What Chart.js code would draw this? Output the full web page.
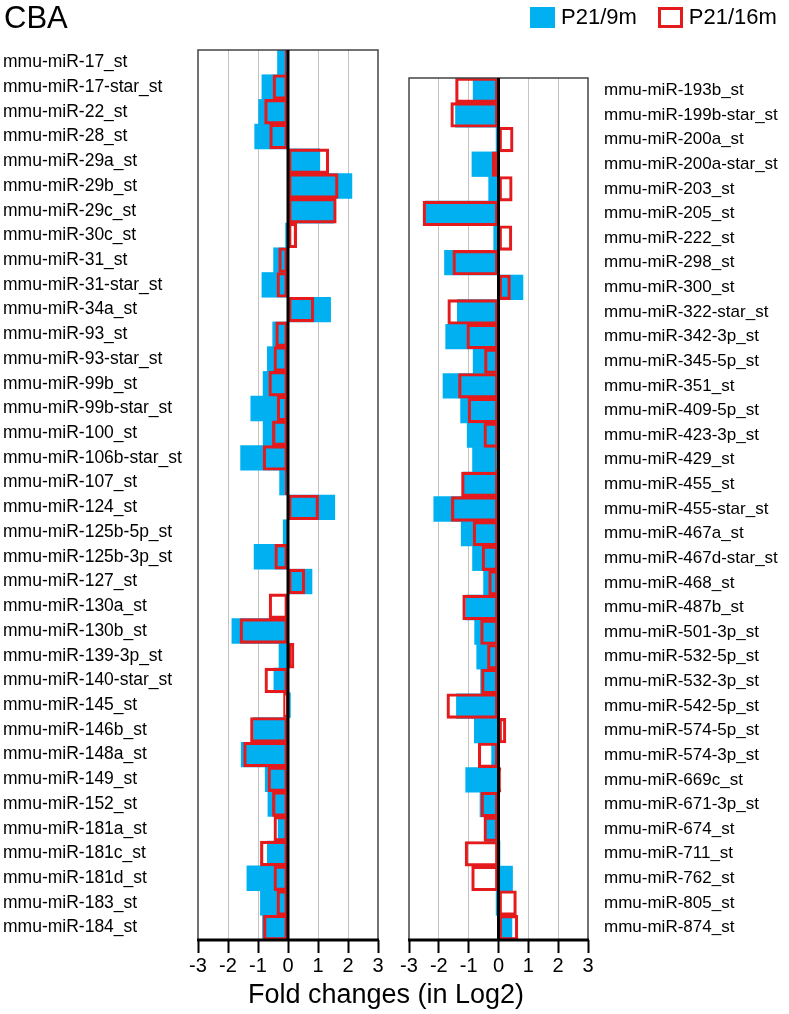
<!DOCTYPE html>
<html>
<head>
<meta charset="utf-8">
<title>CBA</title>
<script src="https://cdn.jsdelivr.net/npm/chart.js@4.4.1/dist/chart.umd.min.js"></script>
<style>
  body { margin: 0; background: #fff; font-family: "Liberation Sans", Arial, sans-serif; }
  #wrap { position: relative; width: 789px; height: 1014px; overflow: hidden; }
  canvas { position: absolute; top: 0; }
  #chart-left { left: 0; }
  #chart-right { left: 395px; }
  .txt { position: absolute; color: #000; white-space: nowrap; line-height: 1; }
  #panel-title { left: 4px; top: 2px; font-size: 31px; }
  #xtitle { left: 0; width: 772px; text-align: center; top: 981px; font-size: 27px; }
  #legend { left: 530px; top: 6px; font-size: 22px; display: flex; align-items: center; }
  #legend .sw { display: inline-block; width: 25px; height: 21px; box-sizing: border-box; margin-right: 6px; }
  #legend .item { display: flex; align-items: center; margin-right: 21px; }
</style>
</head>
<body>
<div id="wrap">
  <canvas id="chart-left" width="392" height="1014"></canvas>
  <canvas id="chart-right" width="394" height="1014"></canvas>
  <div class="txt" id="panel-title">CBA</div>
  <div class="txt" id="legend"></div>
  <div class="txt" id="xtitle">Fold changes (in Log2)</div>
</div>
<script>
// data (log2 fold changes)

const leftLabels = [
  "mmu-miR-17_st", "mmu-miR-17-star_st", "mmu-miR-22_st", "mmu-miR-28_st",
  "mmu-miR-29a_st", "mmu-miR-29b_st", "mmu-miR-29c_st", "mmu-miR-30c_st",
  "mmu-miR-31_st", "mmu-miR-31-star_st", "mmu-miR-34a_st", "mmu-miR-93_st",
  "mmu-miR-93-star_st", "mmu-miR-99b_st", "mmu-miR-99b-star_st", "mmu-miR-100_st",
  "mmu-miR-106b-star_st", "mmu-miR-107_st", "mmu-miR-124_st", "mmu-miR-125b-5p_st",
  "mmu-miR-125b-3p_st", "mmu-miR-127_st", "mmu-miR-130a_st", "mmu-miR-130b_st",
  "mmu-miR-139-3p_st", "mmu-miR-140-star_st", "mmu-miR-145_st", "mmu-miR-146b_st",
  "mmu-miR-148a_st", "mmu-miR-149_st", "mmu-miR-152_st", "mmu-miR-181a_st",
  "mmu-miR-181c_st", "mmu-miR-181d_st", "mmu-miR-183_st", "mmu-miR-184_st"
];
const left9m = [
  -0.35, -0.87, -0.98, -1.11, 1.06, 2.13, 1.53, -0.08, -0.48, -0.87,
  1.42, -0.51, -0.69, -0.83, -1.24, -0.83, -1.58, -0.28, 1.56, -0.16,
  -1.13, 0.8, 0, -1.87, -0.3, -0.47, 0.08, -1.15, -1.56, -0.76,
  -0.67, -0.33, -0.69, -1.37, -0.92, -0.85
];
const left16m = [
  -0.1, -0.5, -0.78, -0.61, 1.36, 1.67, 1.61, 0.29, -0.31, -0.37,
  0.86, -0.41, -0.47, -0.64, -0.36, -0.52, -0.83, -0.09, 1.02, -0.03,
  -0.44, 0.56, -0.63, -1.6, 0.2, -0.77, -0.15, -1.25, -1.48, -0.67,
  -0.52, -0.47, -0.92, -0.47, -0.37, -0.82
];

const rightLabels = [
  "mmu-miR-193b_st", "mmu-miR-199b-star_st", "mmu-miR-200a_st", "mmu-miR-200a-star_st",
  "mmu-miR-203_st", "mmu-miR-205_st", "mmu-miR-222_st", "mmu-miR-298_st",
  "mmu-miR-300_st", "mmu-miR-322-star_st", "mmu-miR-342-3p_st", "mmu-miR-345-5p_st",
  "mmu-miR-351_st", "mmu-miR-409-5p_st", "mmu-miR-423-3p_st", "mmu-miR-429_st",
  "mmu-miR-455_st", "mmu-miR-455-star_st", "mmu-miR-467a_st", "mmu-miR-467d-star_st",
  "mmu-miR-468_st", "mmu-miR-487b_st", "mmu-miR-501-3p_st", "mmu-miR-532-5p_st",
  "mmu-miR-532-3p_st", "mmu-miR-542-5p_st", "mmu-miR-574-5p_st", "mmu-miR-574-3p_st",
  "mmu-miR-669c_st", "mmu-miR-671-3p_st", "mmu-miR-674_st", "mmu-miR-711_st",
  "mmu-miR-762_st", "mmu-miR-805_st", "mmu-miR-874_st"
];
const right9m = [
  -0.85, -1.44, -0.08, -0.89, -0.33, -2.45, -0.16, -1.81, 0.82, -1.38,
  -1.77, -0.85, -1.86, -1.27, -1.05, -0.87, -1.19, -2.17, -1.25, -0.87,
  -0.5, -1.1, -0.8, -0.73, -0.6, -1.41, -0.81, -0.23, -1.1, -0.62,
  -0.45, 0.05, 0.47, -0.08, 0.45
];
const right16m = [
  -1.44, -1.6, 0.49, -0.21, 0.46, -2.53, 0.45, -1.53, 0.4, -1.7,
  -1.06, -0.47, -1.34, -1.02, -0.49, -0.1, -1.24, -1.58, -0.85, -0.55,
  -0.33, -1.2, -0.6, -0.37, -0.57, -1.73, 0.25, -0.68, 0.08, -0.59,
  -0.49, -1.12, -0.9, 0.6, 0.65
];

const xTicks = [-3, -2, -1, 0, 1, 2, 3];

const BLUE = "#00b0f0";
const RED = "#e41a1c";
const FONT = "'Liberation Sans', Arial, sans-serif";

// frame round the plot and the zero line on top of the bars
const framePlugin = {
  id: "frame",
  afterDatasetsDraw(chart) {
    const { ctx, chartArea: a, scales } = chart;
    ctx.save();
    ctx.strokeStyle = "#444";
    ctx.lineWidth = 1.5;
    ctx.strokeRect(a.left, a.top, a.right - a.left, a.bottom - a.top);
    const x0 = scales.x.getPixelForValue(0);
    ctx.strokeStyle = "#000";
    ctx.lineWidth = 3;
    ctx.beginPath();
    ctx.moveTo(x0, a.top);
    ctx.lineTo(x0, a.bottom);
    ctx.stroke();
    ctx.beginPath();
    ctx.moveTo(a.left - 1, a.bottom);
    ctx.lineTo(a.right + 1, a.bottom);
    ctx.stroke();
    ctx.restore();
  }
};

function makeChart(id, labels, v9m, v16m, side, padding, yWidth, labelSize, labelPad) {
  const canvas = document.getElementById(id);
  return new Chart(canvas, {
    type: "bar",
    data: {
      labels: labels,
      datasets: [
        {
          label: "P21/16m",
          data: v16m,
          backgroundColor: "rgba(0,0,0,0)",
          borderColor: RED,
          borderWidth: 2.5,
          borderSkipped: false
        },
        {
          label: "P21/9m",
          data: v9m,
          backgroundColor: BLUE,
          borderWidth: 0
        }
      ]
    },
    options: {
      indexAxis: "y",
      responsive: false,
      animation: false,
      grouped: false,
      barPercentage: 1,
      categoryPercentage: 1,
      layout: { padding: padding },
      plugins: {
        legend: { display: false },
        tooltip: { enabled: false }
      },
      scales: {
        x: {
          min: -3,
          max: 3,
          afterBuildTicks(scale) {
            scale.ticks = xTicks.map((v) => ({ value: v }));
          },
          afterFit(scale) {
            scale.height = 74;
          },
          ticks: {
            color: "#000",
            padding: 1,
            font: { family: FONT, size: 20 }
          },
          grid: {
            color: (c) => (c.tick && Math.abs(c.tick.value) < 3 && c.tick.value !== 0 ? "#c4c4c4" : "rgba(0,0,0,0)"),
            lineWidth: 1,
            tickColor: "#000",
            tickLength: 13,
            tickWidth: 2
          },
          border: { display: false }
        },
        y: {
          position: side,
          afterFit(scale) {
            scale.width = yWidth;
          },
          grid: { display: false },
          border: { display: false },
          ticks: {
            color: "#000",
            crossAlign: side === "left" ? "far" : "near",
            padding: labelPad,
            autoSkip: false,
            font: { family: FONT, size: labelSize }
          }
        }
      }
    },
    plugins: [framePlugin]
  });
}

window.addEventListener("DOMContentLoaded", () => {
  // left panel: plot from x 198 to 378, y 50 to 940
  makeChart("chart-left", leftLabels, left9m, left16m, "left",
    { left: 3, top: 50, right: 14, bottom: 0 }, 195, 17.5, 0);
  // right panel: plot from x 409 to 588, y 78 to 940
  makeChart("chart-right", rightLabels, right9m, right16m, "right",
    { left: 14, top: 78, right: 0, bottom: 0 }, 201, 17, 8);

  // legend
  const legend = document.getElementById("legend");
  [
    { text: "P21/9m", css: "background:" + BLUE + ";" },
    { text: "P21/16m", css: "border:3px solid " + RED + ";background:#fff;" }
  ].forEach(({ text, css }) => {
    const item = document.createElement("span");
    item.className = "item";
    item.innerHTML = `<span class="sw" style="${css}"></span>${text}`;
    legend.appendChild(item);
  });
});
</script>
</body>
</html>
